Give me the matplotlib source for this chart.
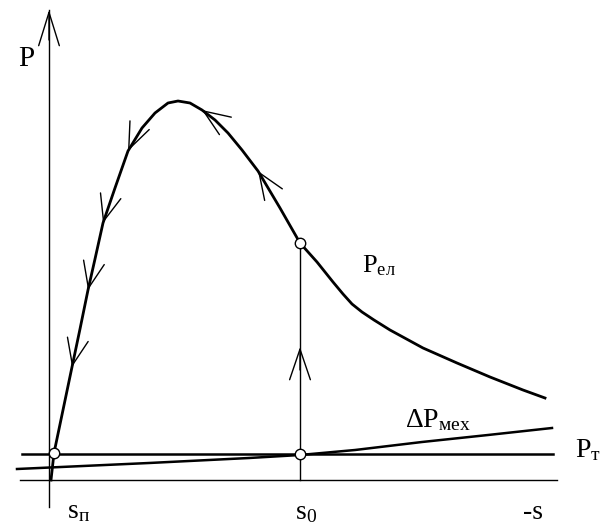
import numpy as np
import matplotlib
matplotlib.use('Agg')
import matplotlib.pyplot as plt

plt.rcParams['font.family'] = ['Liberation Serif', 'DejaVu Serif']
plt.rcParams['mathtext.fontset'] = 'custom'
plt.rcParams['mathtext.rm'] = 'Liberation Serif'
plt.rcParams['mathtext.it'] = 'Liberation Serif'

# P_ел curve
p_el_x = [2, 5, 14, 23, 31, 39, 46, 54, 66, 79, 93, 106, 119, 129, 141,
          153, 166, 179, 193, 209, 231, 251, 268, 284, 294, 303, 313, 325,
          341, 374, 408, 441, 474, 496]
p_el_y = [0, 27, 70, 113, 151, 190, 221, 257, 292, 329, 352, 367, 377, 379,
          377, 370, 360, 347, 330, 309, 272, 237, 218, 198, 186, 176, 168,
          160, 150, 132, 117, 103, 90, 82]
# x positions of the direction arrows on P_ел
arrow_x = [23, 39, 54, 79, 153, 209]

# ΔP_мех curve
dp_x = [-32, 100, 200, 251, 306, 373, 439, 503]
dp_y = [11, 17, 22, 25, 30, 38, 45, 52]

# P_т level
p_t = 26
s_n = 5      # s_п
s_0 = 251    # s_0
x_end = 508


def main():
    fig = plt.figure(figsize=(6.03, 5.24), dpi=100)
    ax = fig.add_axes([0, 0, 1, 1])
    ax.set_xlim(-49, 554)
    ax.set_ylim(-44, 480)
    ax.axis('off')

    # axes
    ax.plot([-29, x_end], [0, 0], color='black', lw=1.0)
    ax.plot([0, 0], [-27, 470], color='black', lw=1.0)
    ax.annotate('', xy=(0, 470), xytext=(0, 440),
                arrowprops=dict(arrowstyle='->,head_length=1,head_width=0.31',
                                mutation_scale=24, lw=1.0, color='black',
                                shrinkA=0, shrinkB=0))

    # curves
    ax.plot(p_el_x, p_el_y, color='black', lw=2.0, solid_joinstyle='round')
    ax.plot(dp_x, dp_y, color='black', lw=1.8, solid_joinstyle='round')
    ax.plot([-27, 504], [p_t, p_t], color='black', lw=1.8)

    # s0 vertical
    i0 = p_el_x.index(s_0)
    ax.plot([s_0, s_0], [0, p_el_y[i0]], color='black', lw=1.0)
    ax.annotate('', xy=(s_0, 133), xytext=(s_0, 110),
                arrowprops=dict(arrowstyle='->,head_length=1,head_width=0.34',
                                mutation_scale=22, lw=1.0, color='black',
                                shrinkA=0, shrinkB=0))

    # direction arrows on P_ел
    px = np.array(p_el_x, dtype=float)
    py = np.array(p_el_y, dtype=float)
    for xa in arrow_x:
        i = p_el_x.index(xa)
        d = np.array([px[i - 1] - px[i + 1], py[i - 1] - py[i + 1]])
        d = d / np.hypot(*d)
        ax.annotate('', xy=(px[i], py[i]), xytext=(px[i] - 3 * d[0], py[i] - 3 * d[1]),
                    arrowprops=dict(arrowstyle='->,head_length=1,head_width=0.4',
                                    mutation_scale=19, lw=1.0, color='black',
                                    shrinkA=0, shrinkB=0))

    # operating points
    ax.plot([s_n, s_0, s_0], [p_el_y[1], p_t, p_el_y[i0]], 'o', ms=7.5,
            mfc='white', mec='black', mew=1.0, zorder=5)

    # labels
    ax.text(-31, 414, 'P', fontsize=21, ha='left', va='baseline')
    ax.text(313, 208, r'$\mathrm{P_{ел}}$', fontsize=19, ha='left', va='baseline')
    ax.text(356, 53, r'$\mathrm{\Delta P_{мех}}$', fontsize=20, ha='left', va='baseline')
    ax.text(526, 23, r'$\mathrm{P_{т}}$', fontsize=20, ha='left', va='baseline')
    ax.text(18, -38, r'$\mathrm{s_{п}}$', fontsize=20, ha='left', va='baseline')
    ax.text(246, -39, r'$\mathrm{s_{0}}$', fontsize=20, ha='left', va='baseline')
    ax.text(474, -39, '-s', fontsize=20, ha='left', va='baseline')

    fig.savefig('out.png', dpi=100)


if __name__ == '__main__':
    main()
